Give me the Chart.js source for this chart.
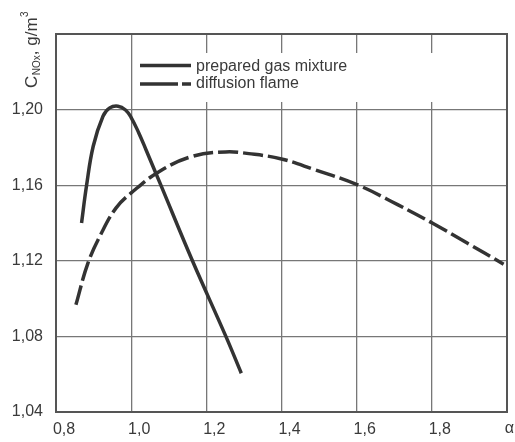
<!DOCTYPE html>
<html>
<head>
<meta charset="utf-8">
<script src="https://cdn.jsdelivr.net/npm/chart.js@4/dist/chart.umd.min.js"></script>
<style>
html,body{margin:0;padding:0;background:#fff;}
canvas{display:block;}
</style>
</head>
<body>
<canvas id="c" width="515" height="442"></canvas>
<script>
// Series: prepared gas mixture (solid)
const premixAlpha = [0.868, 0.881, 0.899, 0.925, 0.943, 0.965, 0.985, 1.000, 1.020, 1.040, 1.079, 1.163, 1.252, 1.293];
const premixC     = [1.140, 1.1594, 1.1806, 1.1965, 1.2009, 1.2018, 1.1998, 1.1958, 1.1878, 1.1785, 1.160, 1.120, 1.080, 1.0605];
// Series: diffusion flame (dashed)
const diffAlpha = [0.853, 0.885, 0.921, 0.960, 1.000, 1.075, 1.163, 1.251, 1.313, 1.400, 1.488, 1.601, 1.709, 1.801, 1.894, 1.991];
const diffC     = [1.0967, 1.1188, 1.1347, 1.148, 1.1559, 1.1673, 1.1753, 1.1776, 1.1767, 1.1739, 1.1682, 1.1603, 1.1497, 1.140, 1.1294, 1.1182];
// Tick labels
const xTickLabels = ['0,8', '1,0', '1,2', '1,4', '1,6', '1,8', ''];
const yTickLabels = ['1,04', '1,08', '1,12', '1,16', '1,20', ''];
const seriesNames = ['prepared gas mixture', 'diffusion flame'];

const ink = '#333333';
const FONT = '"Liberation Sans", Arial, sans-serif';

const toXY = (xs, ys) => xs.map((x, i) => ({x: x, y: ys[i]}));

const decor = {
  id: 'decor',
  beforeDatasetsDraw(chart) {
    const ctx = chart.ctx, a = chart.chartArea;
    ctx.save();
    ctx.fillStyle = '#fff';
    ctx.fillRect(135, 53, 315, 49);
    ctx.strokeStyle = '#555';
    ctx.lineWidth = 2;
    ctx.strokeRect(a.left, a.top, a.right - a.left, a.bottom - a.top);
    ctx.restore();
  },
  afterDraw(chart) {
    const ctx = chart.ctx;
    ctx.save();
    ctx.strokeStyle = ink;
    ctx.lineWidth = 3.5;
    ctx.beginPath(); ctx.moveTo(140, 65.5); ctx.lineTo(191, 65.5); ctx.stroke();
    ctx.beginPath(); ctx.moveTo(140, 84); ctx.lineTo(178, 84); ctx.moveTo(182, 84); ctx.lineTo(191, 84); ctx.stroke();
    ctx.fillStyle = '#3a3a3a';
    ctx.font = '16px ' + FONT;
    ctx.textBaseline = 'middle';
    ctx.textAlign = 'left';
    ctx.fillText(seriesNames[0], 196, 67);
    ctx.fillText(seriesNames[1], 196, 84);
    ctx.textAlign = 'right';
    ctx.fillText('α', 514, 429);
    ctx.translate(37, 88);
    ctx.rotate(-Math.PI / 2);
    ctx.textAlign = 'left';
    ctx.textBaseline = 'alphabetic';
    let x = 0;
    ctx.font = '17px ' + FONT;
    ctx.fillText('C', x, 0); x += ctx.measureText('C').width + 0.5;
    ctx.font = '10px ' + FONT;
    ctx.fillText('NOx', x, 2.5); x += ctx.measureText('NOx').width;
    ctx.font = '17px ' + FONT;
    ctx.fillText(', g/m', x, 0); x += ctx.measureText(', g/m').width + 0.5;
    ctx.font = '10px ' + FONT;
    ctx.fillText('3', x, -9);
    ctx.restore();
  }
};

new Chart(document.getElementById('c'), {
  type: 'line',
  data: {
    datasets: [
      {
        label: seriesNames[0],
        data: toXY(premixAlpha, premixC),
        borderColor: ink, borderWidth: 3.5, pointRadius: 0, fill: false,
        tension: 0.4
      },
      {
        label: seriesNames[1],
        data: toXY(diffAlpha, diffC),
        borderColor: ink, borderWidth: 3.5, pointRadius: 0, fill: false,
        borderDash: [20, 5],
        tension: 0.4
      }
    ]
  },
  options: {
    responsive: false,
    animation: false,
    devicePixelRatio: 1,
    layout: {padding: {left: 0, right: 4, top: 34, bottom: 0}},
    plugins: {legend: {display: false}, tooltip: {enabled: false}},
    scales: {
      x: {
        type: 'linear', min: 0.8, max: 2.0,
        afterFit: s => { s.height = 30; },
        grid: {color: '#777', lineWidth: 1.3, drawTicks: false},
        border: {display: true, color: '#444', width: 2},
        ticks: {
          stepSize: 0.2, padding: 8, labelOffset: 8, maxRotation: 0, autoSkip: false,
          color: '#3a3a3a', font: {size: 16, family: FONT},
          callback: (v, i) => xTickLabels[i] !== undefined ? xTickLabels[i] : ''
        }
      },
      y: {
        type: 'linear', min: 1.04, max: 1.24,
        afterFit: s => { s.width = 56; },
        grid: {color: '#777', lineWidth: 1.3, drawTicks: false},
        border: {display: true, color: '#444', width: 2},
        ticks: {
          stepSize: 0.04, padding: 13, autoSkip: false,
          color: '#3a3a3a', font: {size: 16, family: FONT},
          callback: (v, i) => yTickLabels[i] !== undefined ? yTickLabels[i] : ''
        }
      }
    }
  },
  plugins: [decor]
});
</script>
</body>
</html>
